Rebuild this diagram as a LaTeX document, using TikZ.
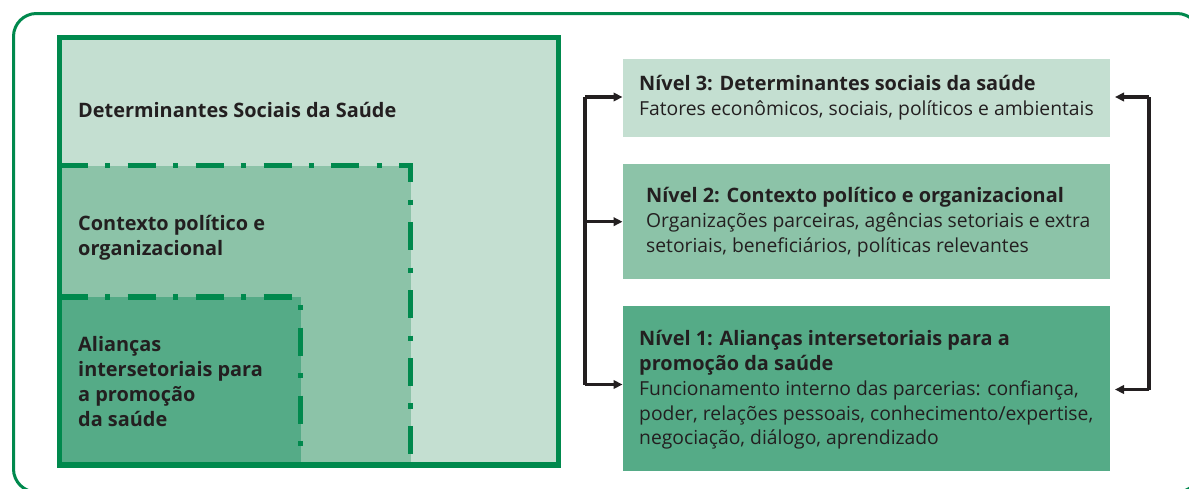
\documentclass[tikz,border=0pt]{standalone}
\usepackage{fontspec}
\setmainfont{Open Sans}
\usetikzlibrary{arrows.meta}
\definecolor{gborder}{RGB}{0,137,77}
\definecolor{flight}{RGB}{196,223,209}
\definecolor{fmid}{RGB}{140,195,168}
\definecolor{fdark}{RGB}{85,171,135}
\definecolor{ink}{RGB}{35,31,32}
\newcommand{\rtxtfont}{\fontsize{19.3}{24.8}\selectfont}
\newcommand{\ltxtfont}{\fontsize{19.3}{25}\selectfont}
\newcommand{\bld}{\fontsize{19.9}{25}\selectfont\bfseries}
\begin{document}
\begin{tikzpicture}[x=1pt,y=-1pt,
  frame/.style={draw=gborder,line width=3pt,rounded corners=23pt},
  sqborder/.style={draw=gborder,line width=5.3pt},
  dashdot/.style={draw=gborder,line width=5.3pt,line cap=butt,dash pattern=on 28pt off 17.3pt on 5.3pt off 17.3pt},
  level/.style={rectangle,draw=none,inner sep=0pt,outer sep=0pt,anchor=north west,minimum width=487.5pt},
  rlbl/.style={anchor=base west,inner sep=0pt,text=ink,font=\rtxtfont},
  llbl/.style={anchor=base west,inner sep=0pt,text=ink,font=\ltxtfont},
  conn/.style={draw=ink,line width=3.3pt},
  tip/.style={-{Triangle[length=9pt,width=8.5pt]}},
]
\useasboundingbox (0,0) rectangle (1189,488);
% outer frame
\draw[frame] (13.5,13.5) rectangle (1200,492);
% nested areas
\fill[flight] (59.8,37.3) rectangle (558.3,465);
\fill[fmid] (59.8,165.8) rectangle (410.7,465);
\fill[fdark] (59.8,297) rectangle (300.7,465);
\draw[dashdot] (59.8,165.8) -- (410.7,165.8) -- (410.7,465);
\draw[dashdot] (59.8,297) -- (300.7,297) -- (300.7,465);
\draw[sqborder] (59.8,37.3) rectangle (558.3,465);
% left labels
\node[llbl] (ldss) at (78,117.3) {\bld Determinantes Sociais da Saúde};
\node[llbl] (lcpo) at (78,230.7) {\begin{tabular}[t]{@{}l@{}}\bld Contexto político e\\ \bld organizacional\end{tabular}};
\node[llbl] (lai) at (78,351.7) {\begin{tabular}[t]{@{}l@{}}\bld Alianças\\ \bld intersetoriais para\\ \bld a promoção\\ \bld da saúde\end{tabular}};
% level boxes
\node[level,fill=flight,minimum height=78pt] (b3) at (622.5,58.5) {};
\node[level,fill=fmid,minimum height=114.7pt] (b2) at (622.5,164.3) {};
\node[level,fill=fdark,minimum height=165pt] (b1) at (622.5,306) {};
\node[rlbl] (t3) at (639,90.7) {\begin{tabular}[t]{@{}l@{}}\bld Nível 3: Determinantes sociais da saúde\\ Fatores econômicos, sociais, políticos e ambientais\end{tabular}};
\node[rlbl] (t2) at (646,202.7) {\begin{tabular}[t]{@{}l@{}}\bld Nível 2: Contexto político e organizacional\\ Organizações parceiras, agências setoriais e extra\\ setoriais, beneficiários, políticas relevantes\end{tabular}};
\node[rlbl] (t1) at (639,345.7) {\begin{tabular}[t]{@{}l@{}}\bld Nível 1: Alianças intersetoriais para a\\ \bld promoção da saúde\\ Funcionamento interno das parcerias: confiança,\\ poder, relações pessoais, conhecimento/expertise,\\ negociação, diálogo, aprendizado\end{tabular}};
% connectors
\coordinate (lt) at (585,97);
\coordinate (lm) at (585,221.7);
\coordinate (lb) at (585,384.5);
\coordinate (rt) at (1149,97);
\coordinate (rb) at (1149,389.5);
\draw[conn] (lt) -- (lb);
\draw[conn,tip] (lt) -- (b3.west |- lt);
\draw[conn,tip] (lm) -- (b2.west |- lm);
\draw[conn,tip] (lb) -- (b1.west |- lb);
\draw[conn] (rt) -- (rb);
\draw[conn,tip] (rt) -- ([xshift=5pt]b3.east |- rt);
\draw[conn,tip] (rb) -- ([xshift=5pt]b1.east |- rb);
\end{tikzpicture}
\end{document}
